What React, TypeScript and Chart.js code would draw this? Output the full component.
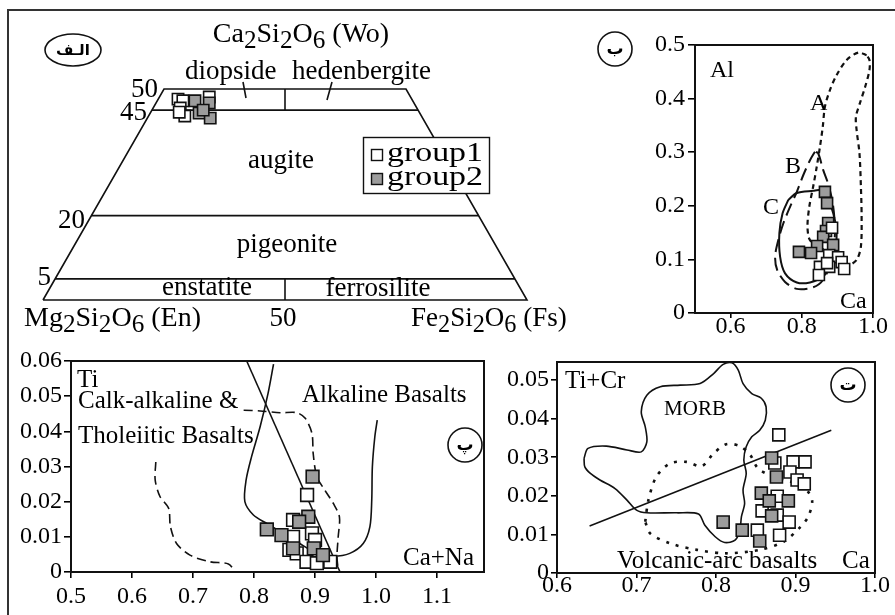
import React, { useEffect, useRef } from "react";
import { Chart, registerables } from "chart.js";

Chart.register(...registerables);

const PAGE_W = 895;
const PAGE_H = 615;
const SERIF = '"Liberation Serif", "Times New Roman", Times, serif';
const ARABIC = '"DejaVu Sans", "Noto Sans", sans-serif';
const GRAY = "#9c9c9c";
const INK = "#111";

// ---------------- (الف) pyroxene quadrilateral, mol % ----------------
const quadLevelsWo = [5, 20, 45];
const quadTopWo = 50;
const quadSplitsWo = [[45, 50], [0, 5]];
const quadG1Wo = [47.6, 47.2, 45.5, 43.6, 44.5, 48.1];
const quadG1Fs = [4.1, 5.3, 5.6, 7.5, 5.9, 10.3];
const quadG2Wo = [47.2, 44.3, 46.7, 43.1, 45.0];
const quadG2Fs = [7.8, 10.1, 11.0, 13.0, 10.6];

// ---------------- (ب) Al vs Ca ----------------
const bG1Ca = [0.885, 0.877, 0.902, 0.912, 0.851, 0.877, 0.919, 0.848, 0.871];
const bG1Al = [0.159, 0.108, 0.104, 0.095, 0.086, 0.086, 0.082, 0.071, 0.093];
const bG2Ca = [0.865, 0.871, 0.874, 0.868, 0.86, 0.843, 0.888, 0.792, 0.826];
const bG2Al = [0.226, 0.205, 0.168, 0.153, 0.142, 0.125, 0.127, 0.114, 0.112];
const fieldACa = [0.982, 0.959, 0.926, 0.898, 0.879, 0.865, 0.859, 0.851, 0.842, 0.832, 0.821, 0.816, 0.823, 0.851, 0.889, 0.931, 0.954, 0.966, 0.968, 0.966, 0.962, 0.954, 0.952, 0.963, 0.978, 0.99, 0.99, 0.982];
const fieldAAl = [0.481, 0.486, 0.472, 0.444, 0.416, 0.385, 0.348, 0.31, 0.273, 0.236, 0.198, 0.161, 0.136, 0.124, 0.099, 0.09, 0.099, 0.124, 0.18, 0.236, 0.298, 0.341, 0.366, 0.391, 0.422, 0.453, 0.472, 0.481];
const fieldBCa = [0.837, 0.823, 0.804, 0.786, 0.767, 0.748, 0.734, 0.725, 0.731, 0.753, 0.786, 0.832, 0.86, 0.885, 0.893, 0.888, 0.875, 0.86, 0.846, 0.837];
const fieldBAl = [0.301, 0.285, 0.257, 0.226, 0.198, 0.167, 0.136, 0.105, 0.08, 0.058, 0.045, 0.048, 0.062, 0.1, 0.15, 0.2, 0.239, 0.267, 0.298, 0.301];
const fieldCCa = [0.762, 0.786, 0.832, 0.851, 0.87, 0.884, 0.893, 0.898, 0.895, 0.88, 0.86, 0.823, 0.786, 0.753, 0.739, 0.737, 0.746, 0.762];
const fieldCAl = [0.211, 0.224, 0.228, 0.229, 0.215, 0.195, 0.173, 0.15, 0.125, 0.09, 0.068, 0.057, 0.057, 0.074, 0.105, 0.149, 0.186, 0.211];
const bXTicks = [0.6, 0.8, 1.0];
const bXLabels = ["0.6", "0.8", "1.0"];
const bYTicks = [0, 0.1, 0.2, 0.3, 0.4, 0.5];
const bYLabels = ["0", "0.1", "0.2", "0.3", "0.4", "0.5"];

// ---------------- (پ) Ti vs Ca+Na ----------------
const cG1CaNa = [0.887, 0.864, 0.895, 0.864, 0.858, 0.87, 0.886, 0.903, 0.925, 0.9];
const cG1Ti = [0.0219, 0.0148, 0.011, 0.01, 0.0063, 0.0053, 0.0029, 0.0025, 0.0029, 0.0091];
const cG2CaNa = [0.896, 0.889, 0.874, 0.821, 0.845, 0.864, 0.898, 0.913];
const cG2Ti = [0.0271, 0.0157, 0.0143, 0.0121, 0.0105, 0.0067, 0.0067, 0.0048];
const cDividerCaNa = [0.788, 0.941];
const cDividerTi = [0.06, 0.0];
const cAlkCaNa = [0.832, 0.823, 0.81, 0.796, 0.787, 0.785, 0.799, 0.821, 0.848, 0.875, 0.903, 0.93, 0.957, 0.979, 0.99, 0.993, 0.994, 0.998, 1.002];
const cAlkTi = [0.0591, 0.0508, 0.0413, 0.0328, 0.0261, 0.02, 0.0162, 0.0138, 0.011, 0.0081, 0.0053, 0.0045, 0.0053, 0.0081, 0.0129, 0.0205, 0.0299, 0.0384, 0.0432];
const cDash1CaNa = [0.783, 0.81, 0.843, 0.87, 0.884, 0.895, 0.897, 0.903, 0.916, 0.93, 0.94, 0.938, 0.936, 0.938];
const cDash1Ti = [0.046, 0.0458, 0.0453, 0.0453, 0.0437, 0.0394, 0.0337, 0.0271, 0.0233, 0.0195, 0.0157, 0.01, 0.0044, 0.0006];
const cDash2CaNa = [0.639, 0.638, 0.646, 0.66, 0.663, 0.673, 0.695, 0.728, 0.758, 0.769];
const cDash2Ti = [0.0313, 0.0261, 0.0214, 0.0181, 0.0129, 0.0081, 0.0048, 0.0029, 0.0023, 0.0001];
const cXTicks = [0.5, 0.6, 0.7, 0.8, 0.9, 1.0, 1.1];
const cXLabels = ["0.5", "0.6", "0.7", "0.8", "0.9", "1.0", "1.1"];
const cYTicks = [0, 0.01, 0.02, 0.03, 0.04, 0.05, 0.06];
const cYLabels = ["0", "0.01", "0.02", "0.03", "0.04", "0.05", "0.06"];

// ---------------- (ت) Ti+Cr vs Ca ----------------
const dG1Ca = [0.879, 0.897, 0.912, 0.874, 0.893, 0.902, 0.911, 0.877, 0.858, 0.877, 0.892, 0.88, 0.852];
const dG1TiCr = [0.0358, 0.0288, 0.0288, 0.0285, 0.0262, 0.0241, 0.0231, 0.0199, 0.0161, 0.015, 0.0132, 0.0098, 0.0111];
const dG2Ca = [0.87, 0.876, 0.857, 0.867, 0.891, 0.87, 0.809, 0.833, 0.855];
const dG2TiCr = [0.0298, 0.0249, 0.0207, 0.0187, 0.0187, 0.0148, 0.0132, 0.0111, 0.0083];
const dMorbCa = [0.634, 0.639, 0.662, 0.688, 0.706, 0.713, 0.711, 0.706, 0.713, 0.73, 0.755, 0.78, 0.797, 0.809, 0.82, 0.828, 0.834, 0.845, 0.857, 0.863, 0.862, 0.855, 0.845, 0.838, 0.835, 0.838, 0.834, 0.836, 0.832, 0.83, 0.824, 0.811, 0.799, 0.786, 0.778, 0.751, 0.713, 0.7, 0.688, 0.673, 0.654, 0.642, 0.635, 0.634];
const dMorbTiCr = [0.0297, 0.0323, 0.0329, 0.0319, 0.0314, 0.034, 0.0379, 0.0418, 0.0461, 0.0483, 0.0487, 0.0491, 0.0517, 0.0541, 0.0545, 0.0526, 0.0491, 0.0465, 0.0453, 0.0431, 0.0396, 0.037, 0.0353, 0.0327, 0.0293, 0.0258, 0.0215, 0.018, 0.0146, 0.0111, 0.0085, 0.0079, 0.0094, 0.0124, 0.0153, 0.0156, 0.0156, 0.0163, 0.0189, 0.0219, 0.0241, 0.0258, 0.0275, 0.0297];
const dArcCa = [0.711, 0.715, 0.725, 0.742, 0.763, 0.782, 0.797, 0.813, 0.83, 0.843, 0.853, 0.872, 0.9, 0.916, 0.921, 0.916, 0.906, 0.885, 0.855, 0.813, 0.776, 0.742, 0.717, 0.711];
const dArcTiCr = [0.0133, 0.0189, 0.025, 0.0284, 0.0288, 0.0277, 0.031, 0.0334, 0.0329, 0.0306, 0.0271, 0.025, 0.0232, 0.021, 0.0185, 0.0146, 0.0119, 0.0081, 0.006, 0.0051, 0.006, 0.0077, 0.0103, 0.0133];
const dDividerCa = [0.641, 0.945];
const dDividerTiCr = [0.0122, 0.037];
const dXTicks = [0.6, 0.7, 0.8, 0.9, 1.0];
const dXLabels = ["0.6", "0.7", "0.8", "0.9", "1.0"];
const dYTicks = [0, 0.01, 0.02, 0.03, 0.04, 0.05];
const dYLabels = ["0", "0.01", "0.02", "0.03", "0.04", "0.05"];

// ---------------- helpers ----------------
type P = { x: number; y: number };
const pts = (xs: number[], ys: number[]): P[] => xs.map((x, i) => ({ x, y: ys[i] }));

function markerSet(data: P[], fill: string, radius = 8.5) {
  return {
    data,
    showLine: false,
    pointStyle: "rect",
    pointRadius: radius,
    pointBackgroundColor: fill,
    pointBorderColor: INK,
    pointBorderWidth: 1.6,
    clip: false,
  };
}

function curveSet(data: P[], dash: number[], width: number, tension = 0.3) {
  return {
    data,
    showLine: true,
    pointRadius: 0,
    borderColor: INK,
    borderWidth: width,
    borderDash: dash,
    tension,
    fill: false,
    clip: false,
  };
}

function axis(min: number, max: number, ticks: number[], labels: string[], kind: "x" | "y", size: number, tickLength: number, padding: number) {
  return {
    type: "linear",
    min,
    max,
    afterBuildTicks: (s: any) => {
      s.ticks = ticks.map((v) => ({ value: v }));
    },
    afterFit: (s: any) => {
      if (kind === "x") s.height = size;
      else s.width = size;
    },
    ticks: {
      callback: (_v: any, i: number) => labels[i],
      font: { family: SERIF, size: 24 },
      color: "#000",
      padding,
      autoSkip: false,
      maxRotation: 0,
      minRotation: 0,
    },
    grid: { drawOnChartArea: false, drawTicks: true, tickLength, color: "#000", lineWidth: 1.6 },
    border: { display: true, color: "#000", width: 2 },
  };
}

type Txt = { t: string; x: number; y: number; align?: CanvasTextAlign; size?: number; w?: number };
type Badge = { t: string; cx: number; cy: number; rx: number; ry: number; size: number };

function drawTexts(ctx: CanvasRenderingContext2D, items: Txt[], defSize = 24) {
  ctx.fillStyle = "#000";
  ctx.textBaseline = "alphabetic";
  for (const it of items) {
    ctx.font = `${it.size ?? defSize}px ${SERIF}`;
    ctx.textAlign = it.align ?? "left";
    if (it.w) {
      // stretch horizontally to the width
      const m = ctx.measureText(it.t).width;
      ctx.save();
      ctx.translate(it.x, it.y);
      ctx.scale(it.w / m, 1);
      ctx.fillText(it.t, 0, 0);
      ctx.restore();
    } else {
      ctx.fillText(it.t, it.x, it.y);
    }
  }
}

function drawBadge(ctx: CanvasRenderingContext2D, b: Badge) {
  ctx.beginPath();
  ctx.ellipse(b.cx, b.cy, b.rx, b.ry, 0, 0, Math.PI * 2);
  ctx.fillStyle = "#fff";
  ctx.fill();
  ctx.lineWidth = 1.6;
  ctx.strokeStyle = INK;
  ctx.stroke();
  ctx.font = `bold ${b.size}px ${ARABIC}`;
  ctx.fillStyle = "#000";
  ctx.textAlign = "center";
  ctx.textBaseline = "middle";
  ctx.fillText(b.t, b.cx, b.cy + 1);
}

function drawFormula(ctx: CanvasRenderingContext2D, s: string, x: number, y: number, align: "left" | "center", size: number) {
  const segs: { t: string; sub: boolean }[] = [];
  let buf = "";
  for (let i = 0; i < s.length; i++) {
    if (s[i] === "_") {
      if (buf) segs.push({ t: buf, sub: false });
      buf = "";
      segs.push({ t: s[i + 1], sub: true });
      i++;
    } else buf += s[i];
  }
  if (buf) segs.push({ t: buf, sub: false });
  const subSize = size * 0.9;
  const widths = segs.map((sg) => {
    ctx.font = `${sg.sub ? subSize : size}px ${SERIF}`;
    return ctx.measureText(sg.t).width;
  });
  const total = widths.reduce((a, b) => a + b, 0);
  let cx = align === "center" ? x - total / 2 : x;
  ctx.textAlign = "left";
  ctx.textBaseline = "alphabetic";
  ctx.fillStyle = "#000";
  segs.forEach((sg, k) => {
    ctx.font = `${sg.sub ? subSize : size}px ${SERIF}`;
    ctx.fillText(sg.t, cx, y + (sg.sub ? size * 0.22 : 0));
    cx += widths[k];
  });
}

function framePlugin(id: string) {
  return {
    id,
    afterDatasetsDraw(chart: any) {
      const { left, top, right, bottom } = chart.chartArea;
      const ctx = chart.ctx;
      ctx.save();
      ctx.lineWidth = 2;
      ctx.strokeStyle = INK;
      ctx.strokeRect(left, top, right - left, bottom - top);
      ctx.restore();
    },
  };
}

function overlayPlugin(id: string, draw: (ctx: CanvasRenderingContext2D, chart: any) => void) {
  return {
    id,
    afterDatasetsDraw(chart: any) {
      const ctx = chart.ctx as CanvasRenderingContext2D;
      ctx.save();
      draw(ctx, chart);
      ctx.restore();
    },
  };
}

function baseOptions(padding: any, scales: any) {
  return {
    responsive: false,
    animation: false,
    events: [],
    layout: { padding },
    plugins: { legend: { display: false }, tooltip: { enabled: false } },
    scales,
  };
}

// ---------------- panel (الف) ----------------
const quadProject = (wo: number[], fs: number[]) => wo.map((w, i) => ({ x: fs[i] + w / 2, y: w }));

const quadTexts: Txt[] = [
  { t: "diopside", x: 185, y: 79 },
  { t: "hedenbergite", x: 292, y: 79 },
  { t: "augite", x: 281, y: 168, align: "center" },
  { t: "pigeonite", x: 287, y: 252, align: "center" },
  { t: "enstatite", x: 207, y: 295, align: "center" },
  { t: "ferrosilite", x: 378, y: 296, align: "center" },
  { t: "50", x: 158, y: 97, align: "right" },
  { t: "45", x: 147, y: 120, align: "right" },
  { t: "20", x: 85, y: 228, align: "right" },
  { t: "5", x: 51, y: 285, align: "right" },
  { t: "50", x: 283, y: 326, align: "center" },
];

function makeQuad(canvas: HTMLCanvasElement) {
  const outline = [
    { x: 0, y: 0 },
    { x: quadTopWo / 2, y: quadTopWo },
    { x: 100 - quadTopWo / 2, y: quadTopWo },
    { x: 100, y: 0 },
    { x: 0, y: 0 },
  ];
  const levels = quadLevelsWo.map((w) => curveSet([{ x: w / 2, y: w }, { x: 100 - w / 2, y: w }], [], 1.6, 0));
  const splits = quadSplitsWo.map(([a, b]) => curveSet([{ x: 50, y: a }, { x: 50, y: b }], [], 1.6, 0));
  return new Chart(canvas, {
    type: "scatter",
    data: {
      datasets: [
        markerSet(quadProject(quadG2Wo, quadG2Fs), GRAY, 8),
        markerSet(quadProject(quadG1Wo, quadG1Fs), "#fff", 8),
        curveSet(outline, [], 1.6, 0),
        ...levels,
        ...splits,
      ] as any,
    },
    options: baseOptions(
      { left: 43, top: 89, right: PAGE_W - 527, bottom: PAGE_H - 300 },
      { x: { type: "linear", display: false, min: 0, max: 100 }, y: { type: "linear", display: false, min: 0, max: 50 } }
    ) as any,
    plugins: [
      overlayPlugin("quadText", (ctx) => {
        drawFormula(ctx, "Ca_2Si_2O_6 (Wo)", 301, 42, "center", 28);
        drawFormula(ctx, "Mg_2Si_2O_6 (En)", 24, 326, "left", 28);
        drawFormula(ctx, "Fe_2Si_2O_6 (Fs)", 411, 326, "left", 27);
        drawTexts(ctx, quadTexts, 27);
        ctx.strokeStyle = INK;
        ctx.lineWidth = 1.6;
        ctx.beginPath();
        ctx.moveTo(243, 82);
        ctx.lineTo(246, 98);
        ctx.moveTo(332, 82);
        ctx.lineTo(327, 100);
        ctx.stroke();
        // legend
        ctx.fillStyle = "#fff";
        ctx.fillRect(363, 137, 126, 56);
        ctx.lineWidth = 1.4;
        ctx.strokeRect(363.5, 137.5, 126, 56);
        ctx.fillStyle = "#fff";
        ctx.fillRect(371, 149, 12, 12);
        ctx.strokeRect(371.5, 149.5, 11, 11);
        ctx.fillStyle = GRAY;
        ctx.fillRect(371, 173, 12, 12);
        ctx.strokeRect(371.5, 173.5, 11, 11);
        drawTexts(ctx, [
          { t: "group1", x: 387, y: 161, w: 96 },
          { t: "group2", x: 387, y: 185, w: 96 },
        ], 27);
        drawBadge(ctx, { t: "الـف", cx: 73, cy: 50, rx: 28, ry: 16, size: 15 });
      }),
    ],
  });
}

// ---------------- panel (ب) ----------------
const bTexts: Txt[] = [
  { t: "Al", x: 710, y: 77 },
  { t: "A", x: 810, y: 110 },
  { t: "B", x: 785, y: 173 },
  { t: "C", x: 763, y: 214 },
  { t: "Ca", x: 840, y: 308 },
];

function makeB(canvas: HTMLCanvasElement) {
  return new Chart(canvas, {
    type: "scatter",
    data: {
      datasets: [
        markerSet(pts(bG1Ca, bG1Al), "#fff", 7.8),
        markerSet(pts(bG2Ca, bG2Al), GRAY, 7.8),
        curveSet(pts(fieldACa, fieldAAl), [5, 4], 2.2),
        curveSet(pts(fieldBCa, fieldBAl), [13, 6], 2),
        curveSet(pts(fieldCCa, fieldCAl), [], 2),
      ] as any,
    },
    options: baseOptions(
      { left: 695 - 60, top: 45, right: PAGE_W - 873, bottom: PAGE_H - 313 - 40 },
      {
        x: axis(0.5, 1.0, bXTicks, bXLabels, "x", 40, 5, -6),
        y: axis(0, 0.5, bYTicks, bYLabels, "y", 60, 7, 3),
      }
    ) as any,
    plugins: [
      framePlugin("bFrame"),
      overlayPlugin("bText", (ctx) => {
        drawTexts(ctx, bTexts, 24);
        drawBadge(ctx, { t: "ب", cx: 615, cy: 49, rx: 17, ry: 17, size: 17 });
      }),
    ],
  });
}

// ---------------- panel (پ) ----------------
const cTexts: Txt[] = [
  { t: "Ti", x: 77, y: 387 },
  { t: "Calk-alkaline &", x: 78, y: 408 },
  { t: "Tholeiitic Basalts", x: 78, y: 443 },
  { t: "Alkaline Basalts", x: 302, y: 402 },
  { t: "Ca+Na", x: 403, y: 565 },
];

function makeC(canvas: HTMLCanvasElement) {
  return new Chart(canvas, {
    type: "scatter",
    data: {
      datasets: [
        markerSet(pts(cG2CaNa, cG2Ti), GRAY, 9),
        markerSet(pts(cG1CaNa, cG1Ti), "#fff", 9),
        curveSet(pts(cDividerCaNa, cDividerTi), [], 1.6, 0),
        curveSet(pts(cAlkCaNa, cAlkTi), [], 1.6),
        curveSet(pts(cDash1CaNa, cDash1Ti), [9, 5], 1.6),
        curveSet(pts(cDash2CaNa, cDash2Ti), [9, 5], 1.6),
      ] as any,
    },
    options: baseOptions(
      { left: 71 - 60, top: 361, right: PAGE_W - 484, bottom: PAGE_H - 572 - 40 },
      {
        x: axis(0.5, 1.177, cXTicks, cXLabels, "x", 40, 6, 4),
        y: axis(0, 0.06, cYTicks, cYLabels, "y", 60, 7, 2),
      }
    ) as any,
    plugins: [
      framePlugin("cFrame"),
      overlayPlugin("cText", (ctx) => {
        drawTexts(ctx, cTexts, 25);
        drawBadge(ctx, { t: "پ", cx: 465, cy: 445, rx: 17, ry: 17, size: 17 });
      }),
    ],
  });
}

// ---------------- panel (ت) ----------------
const dTexts: Txt[] = [
  { t: "Ti+Cr", x: 565, y: 388 },
  { t: "MORB", x: 695, y: 415, align: "center", size: 21 },
  { t: "Volcanic-arc basalts", x: 617, y: 568 },
  { t: "Ca", x: 842, y: 568 },
];

function makeD(canvas: HTMLCanvasElement) {
  return new Chart(canvas, {
    type: "scatter",
    data: {
      datasets: [
        markerSet(pts(dG2Ca, dG2TiCr), GRAY, 8.5),
        markerSet(pts(dG1Ca, dG1TiCr), "#fff", 8.5),
        curveSet(pts(dDividerCa, dDividerTiCr), [], 1.6, 0),
        curveSet(pts(dMorbCa, dMorbTiCr), [], 1.6),
        curveSet(pts(dArcCa, dArcTiCr), [3, 7], 2.6),
      ] as any,
    },
    options: baseOptions(
      { left: 557 - 60, top: 362, right: PAGE_W - 875, bottom: PAGE_H - 573 - 40 },
      {
        x: axis(0.6, 1.0, dXTicks, dXLabels, "x", 40, 5, -7),
        y: axis(0, 0.0547, dYTicks, dYLabels, "y", 60, 6, 2),
      }
    ) as any,
    plugins: [
      framePlugin("dFrame"),
      overlayPlugin("dText", (ctx) => {
        drawTexts(ctx, dTexts, 25);
        drawBadge(ctx, { t: "ت", cx: 848, cy: 385, rx: 17, ry: 17, size: 17 });
      }),
    ],
  });
}

function ChartCanvas({ make }: { make: (c: HTMLCanvasElement) => Chart }) {
  const ref = useRef<HTMLCanvasElement>(null);
  useEffect(() => {
    const chart = make(ref.current as HTMLCanvasElement);
    return () => chart.destroy();
  }, [make]);
  return (
    <canvas
      ref={ref}
      width={PAGE_W}
      height={PAGE_H}
      style={{ position: "absolute", left: 0, top: 0, width: PAGE_W, height: PAGE_H }}
    />
  );
}

export default function App() {
  return (
    <div style={{ position: "fixed", left: 0, top: 0, width: PAGE_W, height: PAGE_H, background: "#fff", overflow: "hidden" }}>
      <div
        style={{
          position: "absolute",
          left: 7,
          top: 9,
          width: PAGE_W + 20,
          height: PAGE_H + 20,
          borderLeft: "2px solid #333",
          borderTop: "2px solid #333",
        }}
      />
      <ChartCanvas make={makeQuad} />
      <ChartCanvas make={makeB} />
      <ChartCanvas make={makeC} />
      <ChartCanvas make={makeD} />
    </div>
  );
}
